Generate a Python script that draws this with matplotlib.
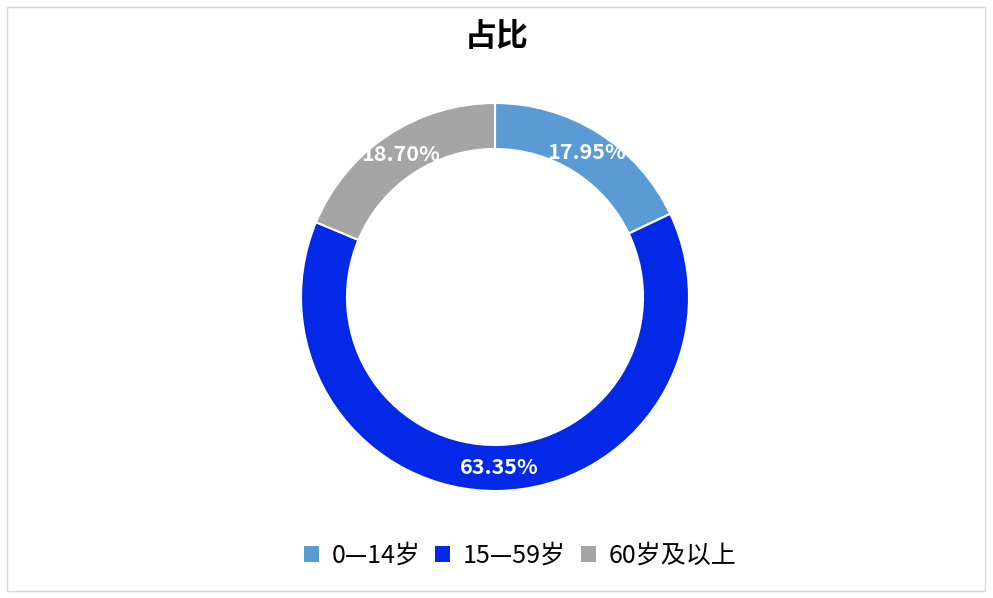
import matplotlib
matplotlib.use('Agg')
import matplotlib.pyplot as plt
from matplotlib.patches import Rectangle, Patch

plt.rcParams['font.family'] = ['Noto Sans CJK SC', 'DejaVu Sans']

# data
title = '占比'
labels = ['0—14岁', '15—59岁', '60岁及以上']
shares = [17.95, 63.35, 18.70]
colors = ['#5B9BD5', '#0428E8', '#A5A5A5']

W, H = 993, 598
fig = plt.figure(figsize=(W / 100, H / 100), dpi=100)
ax = fig.add_axes([0, 0, 1, 1])
ax.set_xlim(0, W)
ax.set_ylim(0, H)
ax.set_aspect('equal')
ax.axis('off')

# chart border
fig.patches.append(Rectangle((7 / W, 7 / H), 978 / W, 584 / H, transform=fig.transFigure,
                             fill=False, edgecolor='#D9D9D9', linewidth=1))

cx, cy, r_out = 495, H - 297, 194
ring = 46
wedges, texts, autotexts = ax.pie(
    shares, colors=colors, startangle=90, counterclock=False,
    center=(cx, cy), radius=r_out,
    wedgeprops=dict(width=ring, edgecolor='white', linewidth=1.5),
    autopct=lambda p: '%.2f%%' % p, pctdistance=1 - ring / 2 / r_out,
    textprops=dict(color='white', fontsize=15.5, fontweight='bold'))
ax.set_xlim(0, W)
ax.set_ylim(0, H)

fig.text(0.5, 1 - 37 / H, title, ha='center', va='center', fontsize=23, fontweight='bold')

handles = [Patch(facecolor=c, edgecolor='none') for c in colors]
fig.legend(handles, labels, loc='center', bbox_to_anchor=(520 / W, 1 - 556 / H), ncol=3,
           frameon=False, fontsize=18, handlelength=0.6, handleheight=0.6,
           handletextpad=0.5, columnspacing=0.6)

fig.savefig('out.png', dpi=100)
